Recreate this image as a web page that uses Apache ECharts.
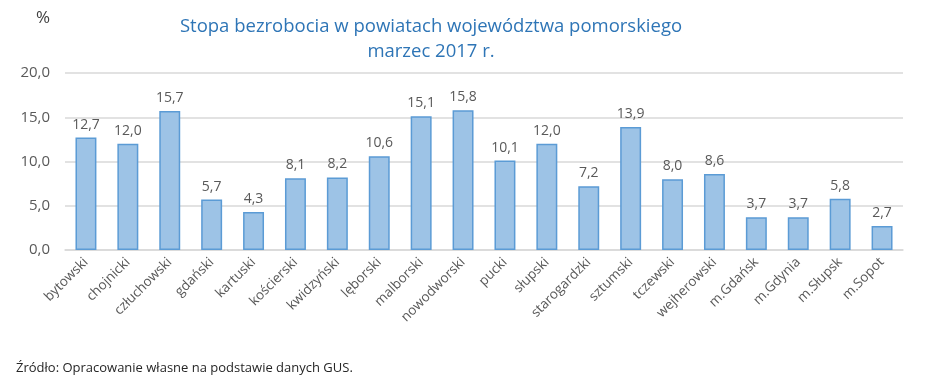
<!DOCTYPE html>
<html>
<head>
<meta charset="utf-8">
<script src="https://cdn.jsdelivr.net/npm/echarts@6/dist/echarts.min.js"></script>
<style>
  html, body { margin: 0; padding: 0; background: #fff; }
  #echart { width: 940px; height: 376px; }
</style>
</head>
<body>
<div id="echart"></div>
<script>
var powiaty = ['bytowski', 'chojnicki', 'człuchowski', 'gdański', 'kartuski', 'kościerski',
    'kwidzyński', 'lęborski', 'malborski', 'nowodworski', 'pucki', 'słupski',
    'starogardzki', 'sztumski', 'tczewski', 'wejherowski', 'm.Gdańsk', 'm.Gdynia',
    'm.Słupsk', 'm.Sopot'];
var stopa = [12.7, 12.0, 15.7, 5.7, 4.3, 8.1, 8.2, 10.6, 15.1, 15.8,
    10.1, 12.0, 7.2, 13.9, 8.0, 8.6, 3.7, 3.7, 5.8, 2.7];

var myChart = echarts.init(document.getElementById('echart'));
var font = 'Open Sans';

function fmt(v) {
    return v.toFixed(1).replace('.', ',');
}

var option = {
    backgroundColor: '#fff',
    animation: false,
    title: [{
        text: 'Stopa bezrobocia w powiatach województwa pomorskiego\nmarzec 2017 r.',
        left: 426,
        top: 9,
        textAlign: 'center',
        textStyle: {
            color: '#2E75B6',
            fontFamily: font,
            fontWeight: 'normal',
            fontSize: 18.5,
            lineHeight: 25
        }
    }, {
        text: '%',
        left: 31,
        top: 5,
        textStyle: { color: '#404040', fontFamily: font, fontWeight: 'normal', fontSize: 17 }
    }, {
        text: 'Źródło: Opracowanie własne na podstawie danych GUS.',
        left: 11,
        top: 357,
        textStyle: { color: '#262626', fontFamily: font, fontWeight: 'normal', fontSize: 13 }
    }],
    grid: {
        left: 65,
        right: 37,
        top: 73,
        bottom: 126
    },
    xAxis: {
        type: 'category',
        data: powiaty,
        axisLine: { lineStyle: { color: '#D9D9D9', width: 1.5 } },
        axisTick: { show: false },
        axisLabel: {
            interval: 0,
            rotate: 45,
            color: '#595959',
            fontFamily: font,
            fontSize: 13.5,
            margin: 10
        }
    },
    yAxis: {
        type: 'value',
        min: 0,
        max: 20,
        interval: 5,
        axisLine: { show: false },
        axisTick: { show: false },
        splitLine: { lineStyle: { color: '#D9D9D9', width: 1.5 } },
        axisLabel: {
            color: '#595959',
            fontFamily: font,
            fontSize: 15,
            margin: 15,
            formatter: function (v) { return fmt(v); }
        }
    },
    series: [{
        type: 'bar',
        data: stopa,
        barWidth: '50%',
        itemStyle: {
            color: '#9DC3E6',
            borderColor: '#5B9BD5',
            borderWidth: 1.5
        },
        label: {
            show: true,
            position: 'top',
            distance: 6,
            color: '#595959',
            fontFamily: font,
            fontSize: 14,
            formatter: function (p) { return fmt(p.value); }
        }
    }]
};
myChart.setOption(option);
</script>
</body>
</html>
